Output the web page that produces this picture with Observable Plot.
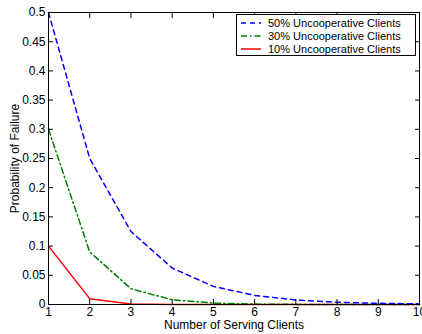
<!DOCTYPE html>
<html><head><meta charset="utf-8">
<script src="https://cdn.jsdelivr.net/npm/d3@7"></script>
<script src="https://cdn.jsdelivr.net/npm/@observablehq/plot@0.6"></script>
<style>
body{margin:0;background:#fff;font-family:"Liberation Sans",Arial,sans-serif;}
#wrap{position:relative;width:422px;height:334px;overflow:hidden;}
#legend{position:absolute;left:236px;top:14px;width:180px;height:42px;border:1px solid #000;background:#fff;font-size:11px;box-sizing:border-box;padding-top:1px;}
#legend div{display:flex;align-items:center;height:13px;}
#legend svg{margin-left:4px;margin-right:7px;}
</style></head><body>
<div id="wrap"></div>
<script>
const clients = [1,2,3,4,5,6,7,8,9,10];
const fail50 = [0.5,0.25,0.125,0.0625,0.031,0.0156,0.0078,0.0039,0.002,0.001];
const fail30 = [0.3,0.09,0.027,0.0081,0.0024,0.0007,0.0002,0.0001,0,0];
const fail10 = [0.1,0.01,0.001,0.0001,0,0,0,0,0,0];
const seriesNames = ["50% Uncooperative Clients","30% Uncooperative Clients","10% Uncooperative Clients"];
const seriesColors = ["#0000ff","#008000","#ff0000"];
const seriesDash = ["5,4","6,3,1.5,3","none"];
const xTicks = [1,2,3,4,5,6,7,8,9,10];
const yTicks = [0,0.05,0.1,0.15,0.2,0.25,0.3,0.35,0.4,0.45,0.5];

const allSeries = [fail50, fail30, fail10];
const lines = allSeries.map((vals, i) => Plot.line(clients.map((c, j) => ({x: c, y: vals[j]})), {
  x: "x", y: "y", stroke: seriesColors[i], strokeWidth: 1.5,
  strokeDasharray: seriesDash[i] === "none" ? null : seriesDash[i]
}));

const chart = Plot.plot({
  width: 422, height: 334,
  marginLeft: 48, marginRight: 3, marginTop: 12, marginBottom: 30,
  style: {fontFamily: "Liberation Sans, Arial, sans-serif", fontSize: "11px", color: "#000", background: "#fff", overflow: "visible"},
  x: {domain: [1, 10]},
  y: {domain: [0, 0.5]},
  marks: [
    ...lines.slice().reverse(),
    Plot.frame({stroke: "#000", strokeWidth: 1}),
    Plot.axisX(xTicks, {anchor: "bottom", tickSize: -5, tickPadding: 8, tickFormat: d => String(d), fontSize: 12, label: "Number of Serving Clients", labelAnchor: "center", labelArrow: "none", labelOffset: 24}),
    Plot.axisX(xTicks, {anchor: "top", tickSize: -5, tickFormat: () => ""  , label: null}),
    Plot.axisY(yTicks, {anchor: "left", tickSize: -5, tickPadding: 8, tickFormat: d => String(d), fontSize: 12, label: "Probability of Failure", labelAnchor: "center", labelArrow: "none", labelOffset: 38}),
    Plot.axisY(yTicks, {anchor: "right", tickSize: -5, tickFormat: () => "", label: null})
  ]
});
document.getElementById("wrap").appendChild(chart);

const leg = document.createElement("div");
leg.id = "legend";
seriesNames.forEach((name, i) => {
  const row = document.createElement("div");
  row.innerHTML = `<svg width="20" height="6"><line x1="0" y1="3" x2="20" y2="3" stroke="${seriesColors[i]}" stroke-width="1.5" ${seriesDash[i]==="none"?"":`stroke-dasharray="${seriesDash[i]}"`}/></svg><span>${name}</span>`;
  leg.appendChild(row);
});
document.getElementById("wrap").appendChild(leg);
</script>
</body></html>
